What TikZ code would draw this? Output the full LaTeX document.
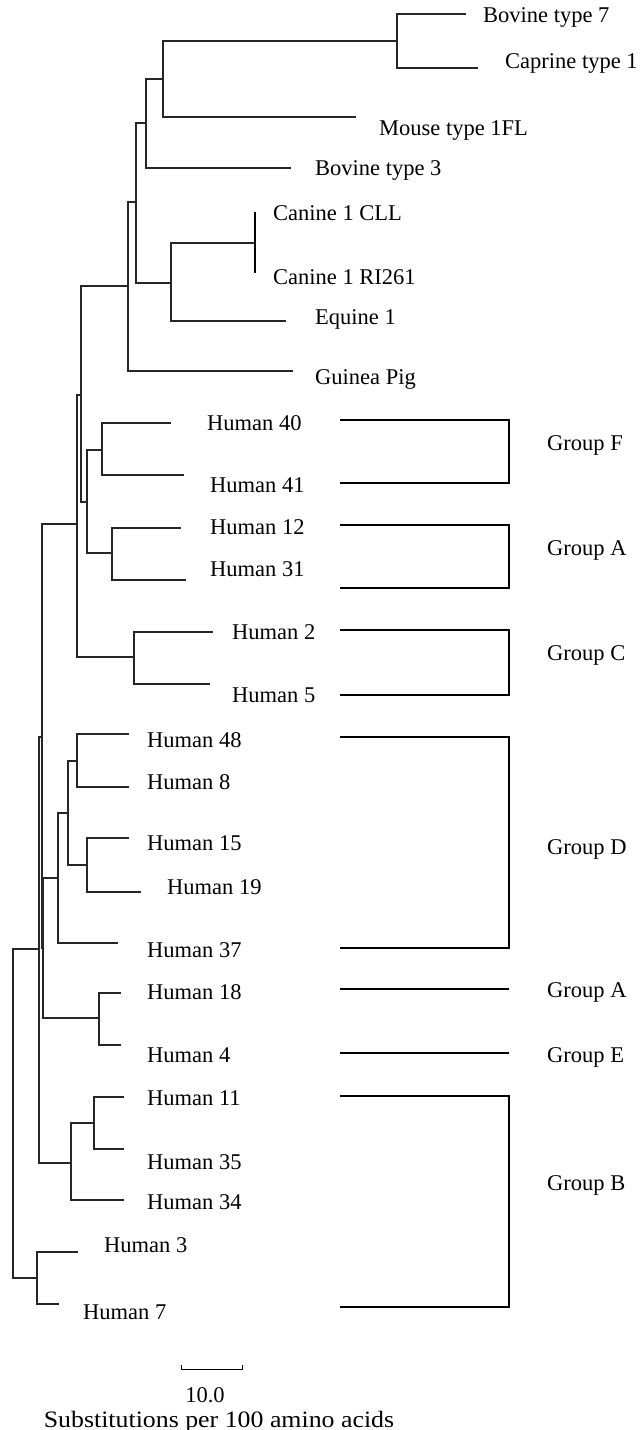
\documentclass[tikz,border=0pt]{standalone}
\usepackage{fontspec}
\setmainfont{Liberation Serif}
\begin{document}
\begin{tikzpicture}[x=1pt,y=-1pt,
  branch/.style={draw=black!85,line width=1.1pt,line cap=rect},
  bracket/.style={draw=black,line width=1.3pt},
  lab/.style={anchor=base west,inner sep=0pt,font=\fontsize{22.5}{27}\selectfont},
  clab/.style={anchor=base,inner sep=0pt,font=\fontsize{22.5}{27}\selectfont}]
\useasboundingbox (0,0) rectangle (642,1430);
% internal nodes
\coordinate (R) at (13,1110);
\coordinate (N1) at (39,949);
\coordinate (N2) at (42,737);
\coordinate (N3) at (43,948);
\coordinate (X77) at (77,524);
\coordinate (A81) at (81,395);
\coordinate (Anim) at (128,286);
\coordinate (S136) at (136,202);
\coordinate (S146) at (146,123);
\coordinate (S163) at (163,79);
\coordinate (BC) at (397,41);
\coordinate (Eq) at (171,283);
\coordinate (Can) at (255,243);
\coordinate (CanT) at (255,212);
\coordinate (CanB) at (255,273);
\coordinate (FA) at (87,502);
\coordinate (F) at (102,450);
\coordinate (A12) at (112,553);
\coordinate (C2) at (134,657);
\coordinate (D) at (58,878);
\coordinate (D68) at (68,813);
\coordinate (D77) at (77,761);
\coordinate (D87) at (87,865);
\coordinate (P18) at (99,1018);
\coordinate (B) at (71,1163);
\coordinate (B94) at (94,1123);
\coordinate (P3) at (37,1278);
% leaf tips
\coordinate (tB7) at (465,14);
\coordinate (tC1) at (477,68);
\coordinate (tMo) at (355,117);
\coordinate (tB3) at (290,168);
\coordinate (tEq) at (285,321);
\coordinate (tGP) at (292,371);
\coordinate (t40) at (170,423);
\coordinate (t41) at (183,475);
\coordinate (t12) at (180,528);
\coordinate (t31) at (185,580);
\coordinate (t2) at (212,632);
\coordinate (t5) at (209,684);
\coordinate (t48) at (128,734);
\coordinate (t8) at (128,787);
\coordinate (t15) at (128,838);
\coordinate (t19) at (140,892);
\coordinate (t37) at (117,943);
\coordinate (t18) at (120,993);
\coordinate (t4) at (120,1045);
\coordinate (t11) at (123,1097);
\coordinate (t35) at (123,1149);
\coordinate (t34) at (123,1200);
\coordinate (t3) at (77,1252);
\coordinate (t7) at (58,1304);
% branches
\path[branch] (R) |- (N1) (R) |- (P3);
\path[branch] (N1) |- (N2) (N1) |- (B);
\path[branch] (N2) |- (X77) (N2) |- (N3);
\path[branch] (N3) |- (D) (N3) |- (P18);
\path[branch] (X77) |- (A81) (X77) |- (C2);
\path[branch] (A81) |- (Anim) (A81) |- (FA);
\path[branch] (Anim) |- (S136) (Anim) |- (tGP);
\path[branch] (S136) |- (S146) (S136) |- (Eq);
\path[branch] (S146) |- (S163) (S146) |- (tB3);
\path[branch] (S163) |- (BC) (S163) |- (tMo);
\path[branch] (BC) |- (tB7) (BC) |- (tC1);
\path[branch] (Eq) |- (Can) (Eq) |- (tEq);
\draw[line width=1.7pt] (CanT) -- (CanB);
\path[branch] (FA) |- (F) (FA) |- (A12);
\path[branch] (F) |- (t40) (F) |- (t41);
\path[branch] (A12) |- (t12) (A12) |- (t31);
\path[branch] (C2) |- (t2) (C2) |- (t5);
\path[branch] (D) |- (D68) (D) |- (t37);
\path[branch] (D68) |- (D77) (D68) |- (D87);
\path[branch] (D77) |- (t48) (D77) |- (t8);
\path[branch] (D87) |- (t15) (D87) |- (t19);
\path[branch] (P18) |- (t18) (P18) |- (t4);
\path[branch] (B) |- (B94) (B) |- (t34);
\path[branch] (B94) |- (t11) (B94) |- (t35);
\path[branch] (P3) |- (t3) (P3) |- (t7);
% labels
\node[lab] (lB7) at (483,22.5) {Bovine type 7};
\node[lab] (lC1) at (505,68.5) {Caprine type 1};
\node[lab] (lMo) at (379,135.5) {Mouse type 1FL};
\node[lab] (lB3) at (315,175.5) {Bovine type 3};
\node[lab] (lCa1) at (273,220.5) {Canine 1 CLL};
\node[lab] (lCa2) at (273,284.5) {Canine 1 RI261};
\node[lab] (lEq) at (315,324.5) {Equine 1};
\node[lab] (lGP) at (315,384.5) {Guinea Pig};
\node[lab] (l40) at (207,430.5) {Human 40};
\node[lab] (l41) at (210,492.5) {Human 41};
\node[lab] (l12) at (210,534.5) {Human 12};
\node[lab] (l31) at (210,576.5) {Human 31};
\node[lab] (l2) at (232,639.5) {Human 2};
\node[lab] (l5) at (232,702.5) {Human 5};
\node[lab] (l48) at (147,747.5) {Human 48};
\node[lab] (l8) at (147,789.5) {Human 8};
\node[lab] (l15) at (147,850.5) {Human 15};
\node[lab] (l19) at (167,894.5) {Human 19};
\node[lab] (l37) at (147,957.5) {Human 37};
\node[lab] (l18) at (147,999.5) {Human 18};
\node[lab] (l4) at (147,1062.5) {Human 4};
\node[lab] (l11) at (147,1105.5) {Human 11};
\node[lab] (l35) at (147,1169.5) {Human 35};
\node[lab] (l34) at (147,1209.5) {Human 34};
\node[lab] (l3) at (104,1252.5) {Human 3};
\node[lab] (l7) at (83,1319.5) {Human 7};
% group brackets
\coordinate (gF1) at (340,420); \coordinate (gF2) at (509,420);
\coordinate (gF3) at (340,483); \coordinate (gF4) at (509,483);
\coordinate (gA1) at (340,525); \coordinate (gA2) at (509,525);
\coordinate (gA3) at (340,588); \coordinate (gA4) at (509,588);
\coordinate (gC1) at (340,630); \coordinate (gC2) at (509,630);
\coordinate (gC3) at (340,695); \coordinate (gC4) at (509,695);
\coordinate (gD1) at (340,737); \coordinate (gD2) at (509,737);
\coordinate (gD3) at (340,948); \coordinate (gD4) at (509,948);
\coordinate (gA5) at (340,989); \coordinate (gA6) at (509,989);
\coordinate (gE1) at (340,1053); \coordinate (gE2) at (509,1053);
\coordinate (gB1) at (340,1096); \coordinate (gB2) at (509,1096);
\coordinate (gB3) at (340,1307); \coordinate (gB4) at (509,1307);
\path[bracket] (gF1) -- (gF2) -- (gF4) -- (gF3);
\path[bracket] (gA1) -- (gA2) -- (gA4) -- (gA3);
\path[bracket] (gC1) -- (gC2) -- (gC4) -- (gC3);
\path[bracket] (gD1) -- (gD2) -- (gD4) -- (gD3);
\path[bracket] (gA5) -- (gA6);
\path[bracket] (gE1) -- (gE2);
\path[bracket] (gB1) -- (gB2) -- (gB4) -- (gB3);
\node[lab] (GF) at (547,450.5) {Group F};
\node[lab] (GA) at (547,555.5) {Group A};
\node[lab] (GC) at (547,660.5) {Group C};
\node[lab] (GD) at (547,854.5) {Group D};
\node[lab] (GA2) at (547,997.5) {Group A};
\node[lab] (GE) at (547,1062.5) {Group E};
\node[lab] (GB) at (547,1190.5) {Group B};
% scale bar
\coordinate (sb1) at (181,1369); \coordinate (sb2) at (242,1369);
\coordinate (sb1t) at (181,1365); \coordinate (sb2t) at (242,1365);
\draw[line width=0.9pt] (sb1t) -- (sb1) -- (sb2) -- (sb2t);
\node[clab] (sv) at (205,1402) {10.0};
\node[clab,font=\fontsize{23.5}{28}\selectfont,xscale=1.1,transform shape] (st) at (219,1427) {Substitutions per 100 amino acids};
\end{tikzpicture}
\end{document}
